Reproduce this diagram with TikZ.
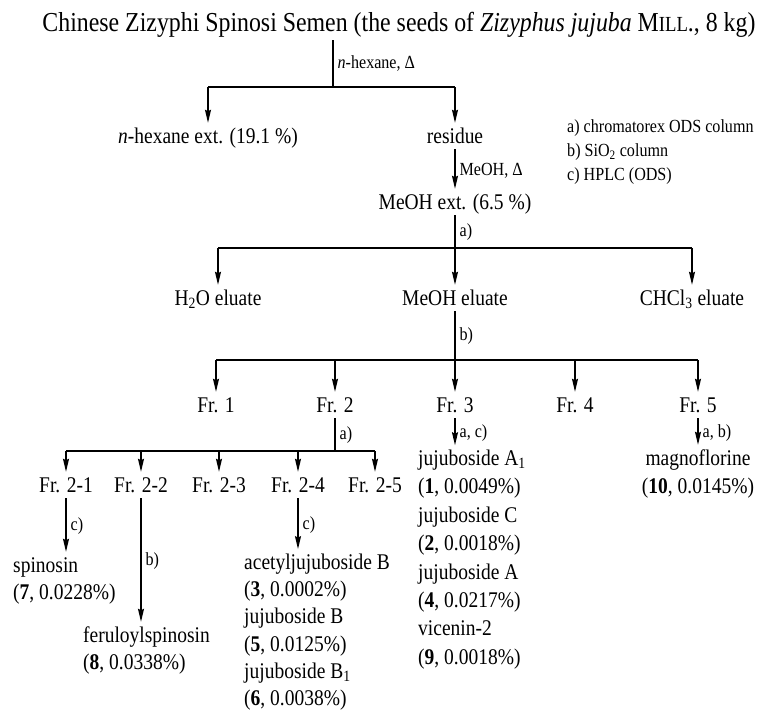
\documentclass[tikz,border=0pt]{standalone}
\usepackage{fontspec}
\setmainfont[FakeStretch=0.87]{Liberation Serif}
\usetikzlibrary{arrows.meta}
\tikzset{>={Stealth[length=13pt,width=6pt,inset=1.5pt]}}
\tikzset{
  frac/.style={anchor=base, inner sep=1pt, text height=16pt, text depth=5pt,
    font=\fontsize{22.4}{25}\selectfont},
  cmpd/.style={frac, anchor=base west},
  cond/.style={anchor=west, inner sep=1pt, xshift=3pt, font=\fontsize{18.5}{20}\selectfont},
  stem/.style={line width=1.3pt},
  bar/.style={line width=1.8pt},
  flow/.style={->, line width=1.3pt, shorten >=3pt},
}
\newcommand{\millsc}{M{\fontsize{21.5}{22}\selectfont ILL}.}

\begin{document}
\begin{tikzpicture}[x=1pt,y=-1pt]
\useasboundingbox (0,0) rectangle (761,710);
% extraction
\node[frac, text height=19pt, font=\fontsize{27.4}{30}\selectfont] (src) at (399,31) {Chinese Zizyphi Spinosi Semen (the seeds of \textit{Zizyphus jujuba} \millsc, 8 kg)};
\node[frac] (hex) at (208,143) {\textit{n}-hexane ext. (19.1 \%)};
\node[frac] (res) at (455,143) {residue};
\coordinate (s0) at (333,40);
\coordinate (b0) at (333,87);
\draw[stem] (s0) -- node[cond] {\textit{n}-hexane, Δ} (b0);
\draw[bar] (hex |- b0) -- (res |- b0);
\foreach \n in {hex,res}
\draw[flow] (\n |- b0) -- (\n);
\foreach \t [count=\i] in {a) chromatorex ODS column, b) SiO\textsubscript{2} column, c) HPLC (ODS)}
\node[cond] (key\i) at (563,104+24*\i) {\t};
\node[frac] (mext) at (455,209) {MeOH ext. (6.5 \%)};
\draw[flow] (res) -- node[cond] {MeOH, Δ} (mext);
% eluates
\node[frac] (h2o) at (218,305) {H\textsubscript{2}O eluate};
\node[frac] (meel) at (455,305) {MeOH eluate};
\node[frac] (chcl) at (692,305) {CHCl\textsubscript{3} eluate};
\coordinate (b1) at (455,248);
\draw[stem] (mext) -- node[cond] {a)} (b1);
\draw[bar] (h2o |- b1) -- (chcl |- b1);
\foreach \n in {h2o,meel,chcl}
\draw[flow] (\n |- b1) -- (\n);
% fractions
\foreach \n/\x in {1/216,2/335,3/455,4/575,5/698}
\node[frac] (fr\n) at (\x,412) {Fr. \n};
\coordinate (b2) at (455,360);
\draw[stem] (meel) -- node[cond] {b)} (b2);
\draw[bar] (fr1 |- b2) -- (fr5 |- b2);
\foreach \n in {1,...,5}
\draw[flow] (fr\n |- b2) -- (fr\n);
% Fr. 2
\foreach \n/\x in {1/66,2/141,3/219,4/298,5/375}
\node[frac] (fr2\n) at (\x,492) {Fr. 2-\n};
\coordinate (b3) at (335,451);
\draw[stem] (fr2) -- node[cond] {a)} (b3);
\draw[bar] (fr21 |- b3) -- (fr25 |- b3);
\foreach \n in {1,...,5}
\draw[flow] (fr2\n |- b3) -- (fr2\n);
% Fr. 3
\foreach \t [count=\i] in {jujuboside A\textsubscript{1}, {(\textbf{1}, 0.0049\%)}, jujuboside C, {(\textbf{2}, 0.0018\%)}, jujuboside A, {(\textbf{4}, 0.0217\%)}, vicenin-2, {(\textbf{9}, 0.0018\%)}}
\node[cmpd] (fr3c\i) at (417,437+28.4*\i) {\t};
\draw[flow] (fr3) -- node[cond] {a, c)} (fr3 |- fr3c1.north);
% Fr. 5
\node[frac] (mag) at (698,465) {magnoflorine};
\node[frac] (magv) at (698,493) {(\textbf{10}, 0.0145\%)};
\draw[flow] (fr5) -- node[cond] {a, b)} (mag);
% Fr. 2-1, 2-2, 2-4
\node[cmpd] (spin) at (12,572) {spinosin};
\node[cmpd] (spinv) at (12,599) {(\textbf{7}, 0.0228\%)};
\draw[flow] (fr21) -- node[cond] {c)} (fr21 |- spin.north);
\node[cmpd] (feru) at (82,642) {feruloylspinosin};
\node[cmpd] (feruv) at (82,669) {(\textbf{8}, 0.0338\%)};
\draw[flow] (fr22) -- node[cond] {b)} (fr22 |- feru.north);
\foreach \t [count=\i] in {acetyljujuboside B, {(\textbf{3}, 0.0002\%)}, jujuboside B, {(\textbf{5}, 0.0125\%)}, jujuboside B\textsubscript{1}, {(\textbf{6}, 0.0038\%)}}
\node[cmpd] (fr24c\i) at (243,542+27.3*\i) {\t};
\draw[flow] (fr24) -- node[cond] {c)} (fr24 |- fr24c1.north);
\end{tikzpicture}
\end{document}
